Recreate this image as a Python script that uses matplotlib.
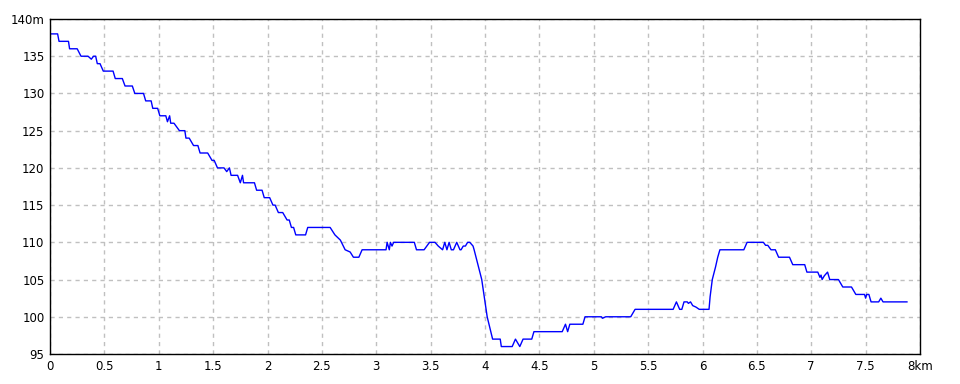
import numpy as np
import matplotlib
matplotlib.use("Agg")
import matplotlib.pyplot as plt

# elevation profile: distance (km) / elevation (m)
dist = [0.00, 0.07, 0.083, 0.17, 0.18, 0.25, 0.285, 0.35, 0.38, 0.40, 0.42, 0.435, 0.46, 0.49,
        0.58, 0.60, 0.665, 0.69, 0.757, 0.78, 0.86, 0.88, 0.93, 0.945, 0.99, 1.01, 1.065,
        1.08, 1.10, 1.11, 1.14, 1.19, 1.24, 1.25, 1.28, 1.32, 1.36, 1.38, 1.45, 1.49, 1.51,
        1.54, 1.60, 1.625, 1.65, 1.665, 1.725, 1.75, 1.77, 1.78, 1.88, 1.90, 1.95, 1.97,
        2.02, 2.05, 2.07, 2.10, 2.14, 2.18, 2.20, 2.22, 2.24, 2.26, 2.35, 2.37, 2.576,
        2.62, 2.67, 2.714, 2.76, 2.79, 2.84, 2.87, 3.09, 3.10, 3.12, 3.13, 3.145, 3.16,
        3.35, 3.37, 3.44, 3.49, 3.54, 3.57, 3.61, 3.63, 3.65, 3.67, 3.69, 3.71, 3.74,
        3.77, 3.78, 3.80, 3.82, 3.84, 3.86, 3.89, 3.90, 3.97, 4.02, 4.07, 4.14, 4.15,
        4.25, 4.28, 4.32, 4.35, 4.43, 4.45, 4.71, 4.74, 4.76, 4.78, 4.90, 4.92, 5.07,
        5.08, 5.11, 5.34, 5.38, 5.73, 5.76, 5.79, 5.81, 5.83, 5.86, 5.87, 5.89, 5.91,
        5.94, 5.97, 6.06, 6.07, 6.09, 6.12, 6.14, 6.16, 6.38, 6.41, 6.56, 6.58, 6.60,
        6.63, 6.67, 6.70, 6.80, 6.83, 6.94, 6.96, 7.06, 7.08, 7.09, 7.10, 7.12, 7.15,
        7.17, 7.25, 7.29, 7.37, 7.39, 7.41, 7.49, 7.50, 7.51, 7.53, 7.55, 7.62, 7.64,
        7.66, 7.88]
elev = [138, 138, 137, 137, 136, 136, 135, 135, 134.6, 135, 135, 134, 134, 133,
        133, 132, 132, 131, 131, 130, 130, 129, 129, 128, 128, 127, 127,
        126.2, 127, 126, 126, 125, 125, 124, 124, 123, 123, 122, 122, 121, 121,
        120, 120, 119.5, 120, 119, 119, 118, 119, 118, 118, 117, 117, 116,
        116, 115, 115, 114, 114, 113, 113, 112, 112, 111, 111, 112, 112,
        111, 110.3, 109, 108.7, 108, 108, 109, 109, 110, 109, 110, 109.5, 110,
        110, 109, 109, 110, 110, 109.5, 109, 110, 109, 110, 109, 109, 110,
        109, 109, 109.5, 109.5, 110, 110, 109.5, 109, 105, 100, 97, 97, 96,
        96, 97, 96, 97, 97, 98, 98, 99, 98, 99, 99, 100, 100,
        99.8, 100, 100, 101, 101, 102, 101, 101, 102, 102, 101.8, 102, 101.5,
        101.3, 101, 101, 102.7, 105, 106.7, 108, 109, 109, 110, 110, 109.6, 109.6,
        109, 109, 108, 108, 107, 107, 106, 106, 105.3, 105.6, 105, 105.5, 106,
        105, 105, 104, 104, 103.5, 103, 103, 102.5, 103, 103, 102, 102, 102.5,
        102, 102]

xticks = [0, 0.5, 1, 1.5, 2, 2.5, 3, 3.5, 4, 4.5, 5, 5.5, 6, 6.5, 7, 7.5, 8]
xlabels = ["0", "0.5", "1", "1.5", "2", "2.5", "3", "3.5", "4", "4.5", "5", "5.5",
           "6", "6.5", "7", "7.5", "8km"]
yticks = [95, 100, 105, 110, 115, 120, 125, 130, 135, 140]
ylabels = ["95", "100", "105", "110", "115", "120", "125", "130", "135", "140m"]

fig = plt.figure(figsize=(9.6, 3.84), dpi=100)
ax = fig.add_axes([50 / 960, 1 - 354 / 384, 870 / 960, 335 / 384])

ax.plot(dist, elev, color="#0000ff", lw=1.0)

ax.set_xlim(0, 8)
ax.set_ylim(95, 140)
ax.set_xticks(xticks)
ax.set_xticklabels(xlabels)
ax.set_yticks(yticks)
ax.set_yticklabels(ylabels)
ax.tick_params(length=0, labelsize=8.5, pad=4)
ax.grid(True, color="#c0c0c0", linestyle=(0, (3, 3)), lw=1)
for s in ax.spines.values():
    s.set_color("black")
    s.set_linewidth(1)

fig.savefig("out.png", dpi=100)
